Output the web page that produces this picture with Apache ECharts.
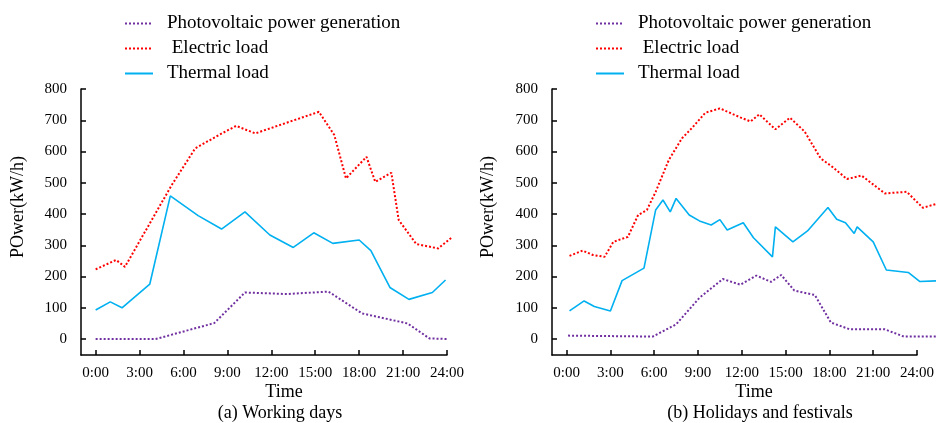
<!DOCTYPE html>
<html>
<head>
<meta charset="utf-8">
<script src="https://cdn.jsdelivr.net/npm/echarts@6/dist/echarts.min.js"></script>
<style>
  html, body { margin: 0; padding: 0; background: #fff; }
  #main { width: 938px; height: 423px; }
</style>
</head>
<body>
<div id="main"></div>
<script>
// [hour, value] pairs
const workPV = [[0,0],[4.1,0],[8.1,51],[10.2,149],[13.1,144],[15.9,152],[18.2,82],[21.3,50],[22.8,2],[24.1,0]];
const workElec = [[0,223],[1.4,253],[2,231],[5.2,493],[6.8,610],[8.5,655],[9.6,682],[10.9,658],[15.25,727],[16.3,653],[17.1,514],[18.5,583],[19.1,503],[20.2,532],[20.7,381],[21.9,304],[23.4,290],[24.3,324]];
const workHeat = [[0,93],[1.0,119],[1.8,100],[3.7,176],[5.1,458],[7.0,395],[8.6,352],[10.2,407],[11.9,333],[13.5,293],[14.9,340],[16.2,306],[18.0,317],[18.8,283],[20.1,165],[21.4,127],[23.0,149],[23.9,189]];

const holiPV = [[0.1,11],[5.9,8],[7.5,47],[9.1,132],[10.7,192],[11.9,174],[13.0,203],[14.0,183],[14.7,205],[15.6,155],[17.0,141],[18.1,53],[19.4,31],[21.8,31],[23.1,8],[25.3,8]];
const holiElec = [[0.2,266],[1.1,283],[1.8,269],[2.6,263],[3.2,311],[4.2,327],[4.9,397],[5.5,413],[6.1,471],[7.0,573],[7.9,642],[8.6,676],[9.5,724],[10.5,738],[11.9,709],[12.6,696],[13.2,719],[14.3,671],[15.3,708],[16.3,664],[17.4,578],[18.2,551],[19.2,512],[20.2,523],[21.8,466],[23.3,471],[24.4,420],[25.3,432]];
const holiHeat = [[0.2,90],[1.2,122],[1.9,104],[3.0,90],[3.8,187],[5.3,227],[6.1,413],[6.6,445],[7.1,407],[7.5,450],[8.4,397],[9.1,378],[9.9,365],[10.5,382],[11.0,349],[12.1,372],[12.8,324],[14.1,263],[14.3,359],[15.5,311],[16.5,346],[17.9,421],[18.5,383],[19.1,372],[19.7,338],[19.9,359],[21.0,311],[21.9,221],[23.4,213],[24.2,184],[25.3,186]];

const timeTicks = [0, 3, 6, 9, 12, 15, 18, 21, 24];
const powerTicks = [0, 100, 200, 300, 400, 500, 600, 700, 800];
const names = ['Photovoltaic power generation', ' Electric load', 'Thermal load'];
const captions = ['(a) Working days', '(b) Holidays and festivals'];

const font = "'Times New Roman', 'Liberation Serif', serif";
const colors = ['#7030a0', '#ff0000', '#00b0f0'];

// axis span shown, and a wider span for the curves that run past 24:00
const xMin = -1, xMax = 24, xDataMax = 25.3;
const yMin = -51, yMax = 800;
const axisW = 366;
const dataW = axisW * (xDataMax - xMin) / (xMax - xMin);

let chart = echarts.init(document.getElementById('main'));

function xAx(i) {
    return {
        type: 'value', gridIndex: i, min: xMin, max: xMax,
        axisLine: { onZero: false, lineStyle: { color: '#000', width: 1.5 } },
        axisTick: { inside: true, length: 5, customValues: timeTicks, lineStyle: { color: '#000', width: 1.5 } },
        axisLabel: { customValues: timeTicks, margin: 11, color: '#000', fontSize: 15, fontFamily: font,
            formatter: v => v + ':00' },
        splitLine: { show: false }
    };
}
function yAx(i) {
    return {
        type: 'value', gridIndex: i, min: yMin, max: yMax,
        axisLine: { show: true, onZero: false, lineStyle: { color: '#000', width: 1.5 } },
        axisTick: { show: true, inside: true, length: 5, customValues: powerTicks, lineStyle: { color: '#000', width: 1.5 } },
        axisLabel: { customValues: powerTicks, margin: 14, color: '#000', fontSize: 15, fontFamily: font },
        splitLine: { show: false }
    };
}
function hidX(i) {
    return { type: 'value', gridIndex: i, min: xMin, max: xDataMax, show: false };
}
function hidY(i) {
    return { type: 'value', gridIndex: i, min: yMin, max: yMax, show: false };
}
function legend(left) {
    return {
        left: left, top: 9, orient: 'vertical', itemWidth: 28, itemHeight: 14, itemGap: 6,
        selectedMode: false, data: names,
        itemStyle: { opacity: 0 },
        textStyle: { color: '#000', fontSize: 19, fontFamily: font, padding: [0, 0, 0, 9] }
    };
}
function line(name, data, i, k, dotted) {
    return {
        name: name, type: 'line', data: data, xAxisIndex: i, yAxisIndex: i,
        symbol: 'none', clip: false, color: colors[k],
        lineStyle: { color: colors[k], width: dotted ? 2 : 1.6, type: dotted ? [2, 2] : 'solid' }
    };
}
function txt(x, y, text, size, rot) {
    return {
        type: 'text', x: x, y: y, rotation: rot || 0,
        style: { text: text, fill: '#000', font: size + 'px ' + font, align: 'center', verticalAlign: 'middle' }
    };
}

let option = {
    animation: false,
    grid: [
        { left: 81, top: 89, width: axisW, height: 266 },
        { left: 552, top: 89, width: axisW - 1, height: 266 },
        { left: 81, top: 89, width: dataW, height: 266 },
        { left: 552, top: 89, width: dataW * (axisW - 1) / axisW, height: 266 }
    ],
    xAxis: [xAx(0), xAx(1), hidX(2), hidX(3)],
    yAxis: [yAx(0), yAx(1), hidY(2), hidY(3)],
    legend: [legend(119), legend(590)],
    series: [
        line(names[0], workPV, 2, 0, true),
        line(names[1], workElec, 2, 1, true),
        line(names[2], workHeat, 2, 2, false),
        line(names[0], holiPV, 3, 0, true),
        line(names[1], holiElec, 3, 1, true),
        line(names[2], holiHeat, 3, 2, false)
    ],
    graphic: [
        txt(284, 392, 'Time', 18),
        txt(280, 413, captions[0], 18),
        txt(754, 392, 'Time', 18),
        txt(760, 413, captions[1], 18),
        txt(18, 207, 'POwer(kW/h)', 18, Math.PI / 2),
        txt(488, 207, 'POwer(kW/h)', 18, Math.PI / 2)
    ]
};

chart.setOption(option);
</script>
</body>
</html>
